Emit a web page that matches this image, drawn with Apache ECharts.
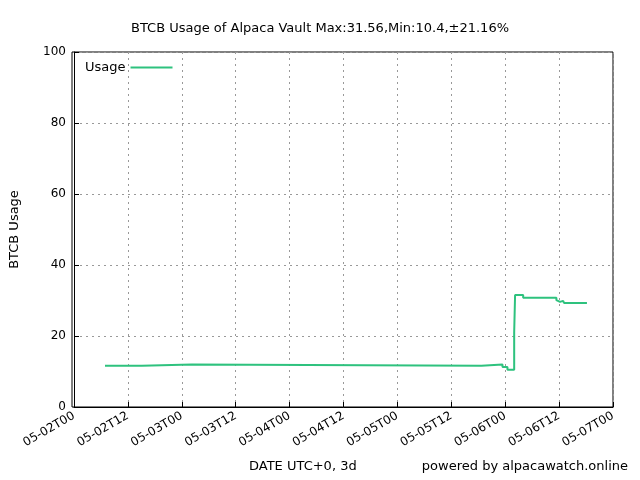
<!DOCTYPE html>
<html><head><meta charset="utf-8">
<script src="https://cdn.jsdelivr.net/npm/echarts@6/dist/echarts.min.js"></script>
<style>html,body{margin:0;padding:0;background:#fff}#c{width:640px;height:480px}</style>
</head><body><div id="c"></div>
<script>
// hours since 05-02T00 UTC, and usage value holding from that hour
var hours = [6.9, 15.1, 26.2, 90.7, 95.4, 96.5, 98.0, 98.2, 100.0, 107.4, 107.8, 108.2, 108.9, 109.1, 114.2];
var usage = [11.6, 12.0, 11.6, 12.0, 11.3, 10.5, 21.0, 31.56, 30.8, 30.1, 29.6, 29.9, 29.6, 29.3, 29.3];
var dayLabels = ['05-02', '05-03', '05-04', '05-05', '05-06', '05-07'];

// build the staircase from the arrays
var pts = [];
hours.forEach(function (h, i) {
    if (i > 0) pts.push([h, usage[i - 1]]);
    pts.push([h, usage[i]]);
});
var font = 'DejaVu Sans';
var chart = echarts.init(document.getElementById('c'));
chart.setOption({
    animation: false,
    textStyle: {fontFamily: font},
    title: {
        text: 'BTCB Usage of Alpaca Vault Max:31.56,Min:10.4,\u00b121.16%',
        left: 'center', top: 17,
        textStyle: {fontSize: 13, fontWeight: 'normal', color: '#000', fontFamily: font}
    },
    legend: {
        left: 80, top: 56, itemWidth: 42, itemHeight: 2, itemGap: 10,
        data: ['Usage'], align: 'right',
        textStyle: {fontSize: 13, color: '#000'}, icon: 'rect'
    },
    grid: {left: 72, right: 27, top: 52, bottom: 73},
    xAxis: {
        type: 'value', min: 0, max: 120, interval: 12,
        axisLine: {show: true, onZero: false, lineStyle: {color: '#000'}},
        axisTick: {inside: true, lineStyle: {color: '#000'}},
        splitLine: {lineStyle: {type: [2, 4], color: '#999'}},
        axisLabel: {
            rotate: 30, color: '#000', fontSize: 12, margin: 8,
            formatter: function (v) {
                return dayLabels[Math.floor(v / 24)] + (v % 24 === 0 ? 'T00' : 'T12');
            }
        }
    },
    yAxis: {
        type: 'value', min: 0, max: 100, interval: 20,
        axisLine: {show: true, lineStyle: {color: '#000'}},
        axisTick: {inside: true, lineStyle: {color: '#000'}},
        splitLine: {lineStyle: {type: [2, 4], color: '#999'}},
        axisLabel: {color: '#000', fontSize: 12},
        name: 'BTCB Usage', nameLocation: 'middle', nameGap: 53,
        nameTextStyle: {fontSize: 13, color: '#000'}
    },
    graphic: [
        {type: 'rect', shape: {x: 72, y: 52, width: 541, height: 355}, silent: true,
         style: {fill: 'none', stroke: '#000', lineWidth: 1}},
        {type: 'text', left: 249, top: 460,
         style: {text: 'DATE UTC+0, 3d', fontSize: 13, fill: '#000', fontFamily: font}},
        {type: 'text', right: 12, top: 460,
         style: {text: 'powered by alpacawatch.online', fontSize: 13, fill: '#000', fontFamily: font}}
    ],
    series: [{
        name: 'Usage', type: 'line', data: pts,
        showSymbol: false, lineStyle: {color: '#2ec27e', width: 2}, itemStyle: {color: '#2ec27e'}
    }]
});
</script>
</body></html>
